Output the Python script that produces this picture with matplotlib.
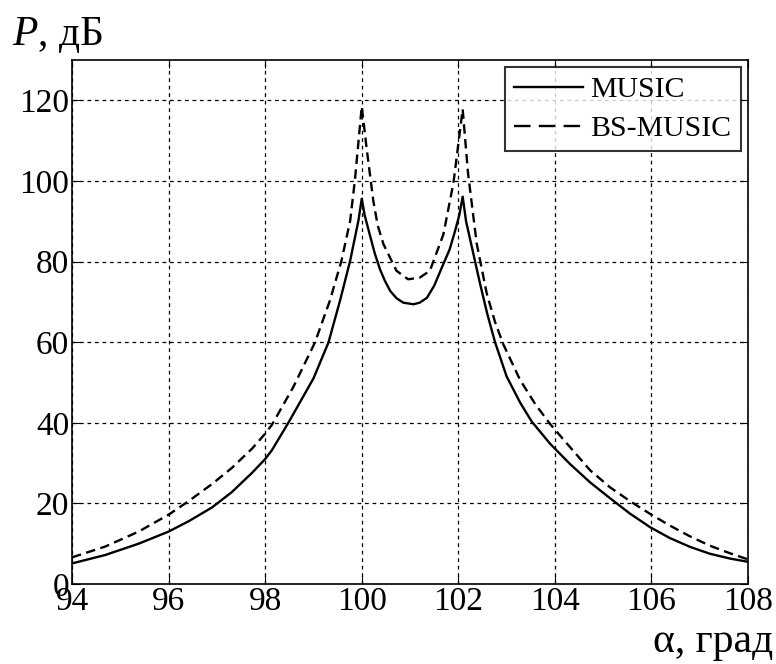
import matplotlib
matplotlib.use("Agg")
import matplotlib.pyplot as plt
from matplotlib.lines import Line2D

plt.rcParams['font.family'] = ['Liberation Serif', 'DejaVu Serif']
plt.rcParams['mathtext.fontset'] = 'custom'
plt.rcParams['mathtext.rm'] = 'Liberation Serif'
plt.rcParams['mathtext.it'] = 'Liberation Serif:italic'

# MUSIC (solid)
alpha_music = [94.0, 94.69, 95.38, 96.0, 96.42, 96.9, 97.31, 97.73, 98.0, 98.14,
               98.48, 99.0, 99.31, 99.55, 99.76, 99.93, 100.0,
               100.06, 100.17, 100.27, 100.38, 100.48, 100.59, 100.72, 100.86, 101.07,
               101.2, 101.35, 101.5, 101.69, 101.82, 101.93, 102.02, 102.09,
               102.16, 102.31, 102.45, 102.6, 102.76, 103.0, 103.28, 103.52, 103.9,
               104.31, 104.73, 105.14, 105.55, 105.97, 106.38, 106.8, 107.21, 107.63, 108.0]
p_music = [5.1, 7.2, 10.0, 13.0, 15.6, 19.0, 22.8, 27.6, 31.0, 33.2,
           40.0, 51.0, 59.9, 70.3, 80.2, 90.1, 95.6,
           91.5, 86.5, 82.0, 78.0, 75.2, 72.7, 70.9, 69.8, 69.4,
           69.8, 71.0, 74.0, 79.4, 83.0, 87.5, 91.5, 96.1,
           90.0, 82.0, 74.5, 67.0, 60.0, 51.5, 45.0, 40.3, 34.8,
           29.8, 25.2, 21.3, 17.5, 14.1, 11.4, 9.2, 7.5, 6.3, 5.5]

# BS-MUSIC (dashed)
alpha_bs = [94.0, 94.69, 95.38, 96.0, 96.42, 96.9, 97.31, 97.73, 98.0, 98.14,
            98.58, 99.03, 99.34, 99.58, 99.76, 99.86, 100.0,
            100.10, 100.24, 100.33, 100.45, 100.72, 100.96, 101.2, 101.41, 101.69, 101.9, 102.09,
            102.2, 102.38, 102.59, 102.76, 102.93, 103.28, 103.6, 103.9,
            104.31, 104.73, 105.14, 105.55, 105.97, 106.38, 106.8, 107.21, 107.63, 108.0]
p_bs = [6.6, 9.3, 13.0, 17.2, 20.6, 24.8, 28.8, 33.6, 37.3, 39.5,
        48.8, 59.9, 70.3, 80.2, 90.1, 100.4, 118.5,
        108.2, 95.0, 89.0, 84.3, 77.7, 75.6, 76.0, 77.7, 86.7, 99.6, 117.8,
        102.0, 84.5, 72.0, 65.0, 59.5, 50.6, 44.5, 39.7,
        34.0, 28.2, 24.0, 20.6, 17.4, 14.5, 11.8, 9.5, 7.6, 6.1]

xticks = [94, 96, 98, 100, 102, 104, 106, 108]
yticks = [0, 20, 40, 60, 80, 100, 120]

fig = plt.figure(figsize=(7.76, 6.64), dpi=100)
ax = fig.add_axes([0.0928, 0.1205, 0.8712, 0.7891])

ax.plot(alpha_music, p_music, color='black', lw=1.7, ls='-')
ax.plot(alpha_bs, p_bs, color='black', lw=1.7, ls=(0, (4, 2.3)))

ax.set_xlim(94, 108)
ax.set_ylim(0, 130)
ax.set_xticks(xticks)
ax.set_yticks(yticks)
ax.tick_params(direction='in', top=True, right=True, labelsize=24, length=6, pad=2)
ax.grid(True, color='black', ls=(0, (3, 3)), lw=0.9)
for s in ax.spines.values():
    s.set_linewidth(1.2)

# legend handles with longer dashes, as in the reference
handles = [Line2D([], [], color='black', lw=1.7, ls='-'),
           Line2D([], [], color='black', lw=1.7, ls=(0, (7, 3.5)))]
leg = ax.legend(handles, ['MUSIC', 'BS-MUSIC'], loc='upper right', fontsize=21.5,
                frameon=True, fancybox=False, edgecolor='black', handlelength=2.3,
                handletextpad=0.25, borderpad=0.3, labelspacing=0.4, borderaxespad=0.25)
leg.get_frame().set_linewidth(1.5)

fig.text(0.015, 0.932, r'$P$, дБ', fontsize=30, ha='left', va='baseline')
fig.text(0.997, 0.005, 'α, град', fontsize=30, ha='right', va='bottom')

fig.savefig('out.png', dpi=100)
